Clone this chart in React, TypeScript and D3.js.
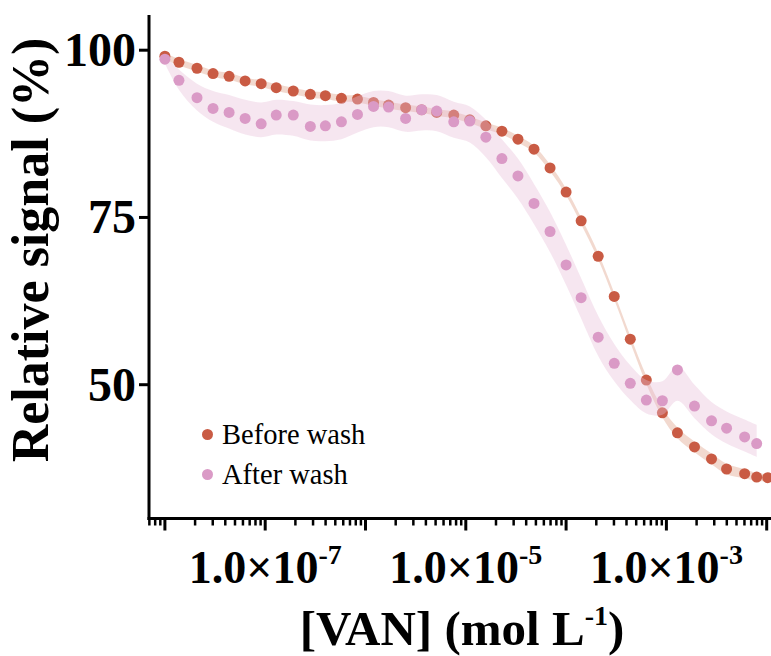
import React from "react";
import * as d3 from "d3";

// log10 of [VAN] concentration (mol L-1) for each measurement
const concLog = [
  -8.0, -7.86, -7.68, -7.52, -7.36, -7.2, -7.04, -6.89, -6.72, -6.55, -6.4, -6.24, -6.08,
  -5.92, -5.77, -5.6, -5.44, -5.29, -5.12, -4.96, -4.8, -4.64, -4.48, -4.32, -4.16, -4.0,
  -3.85, -3.68, -3.52, -3.36, -3.2, -3.04, -2.89, -2.72, -2.55, -2.4, -2.22, -2.1, -1.99,
];

const beforeWash = [
  99.1, 98.2, 97.3, 96.5, 96.1, 95.4, 95.0, 94.4, 93.9, 93.4, 93.2, 92.8, 92.7, 92.2, 91.8,
  91.4, 91.1, 90.7, 90.3, 89.6, 88.7, 87.9, 86.7, 85.2, 82.4, 78.8, 74.5, 69.2, 63.2, 56.8,
  50.7, 45.8, 42.8, 40.7, 38.9, 37.4, 36.7, 36.2, 36.1,
];
const beforeBandHalf = [
  0.4, 0.5, 0.5, 0.5, 0.5, 0.5, 0.5, 0.5, 0.5, 0.5, 0.5, 0.5, 0.5, 0.5, 0.5, 0.5, 0.5, 0.5,
  0.5, 0.5, 0.5, 0.5, 0.5, 0.5, 0.5, 0.5, 0.5, 0.5, 0.5, 0.5, 0.6, 0.7, 0.8, 0.8, 0.8, 0.8,
  0.7, 0.6, 0.5,
];

const afterWash = [
  98.65, 95.5, 92.9, 91.3, 90.7, 89.8, 89.0, 90.3, 90.3, 88.6, 88.7, 89.3, 90.4, 91.6, 91.5,
  89.8, 91.1, 90.9, 89.3, 89.4, 87.0, 83.8, 81.2, 77.1, 72.9, 67.9, 63.0, 57.1, 53.2, 50.2,
  47.7, 47.6, 52.2, 46.8, 44.6, 43.5, 42.2, 41.2,
];
const afterBandMid = [
  98.6, 95.6, 93.0, 91.6, 90.8, 90.0, 89.6, 90.0, 89.8, 89.2, 89.1, 89.4, 90.4, 91.2, 91.2,
  90.5, 90.7, 90.6, 89.6, 88.9, 86.8, 83.8, 80.8, 77.0, 72.8, 67.9, 62.9, 57.3, 53.3, 50.3,
  48.2, 48.0, 50.2, 47.5, 45.0, 43.6, 42.4, 41.6,
];
const afterBandHalf = [
  0.6, 1.5, 2.0, 2.3, 2.5, 2.6, 2.6, 2.6, 2.6, 2.7, 2.7, 2.7, 2.7, 2.7, 2.7, 2.7, 2.7, 2.7,
  2.7, 2.7, 2.8, 2.9, 3.0, 3.0, 3.0, 3.0, 3.0, 3.0, 2.8, 2.6, 2.5, 2.5, 2.6, 2.5, 2.4, 2.4,
  2.4, 2.4,
];

const yTicks = [100, 75, 50];
const xMajorExp = [-7, -5, -3];
const legendItems = ["Before wash", "After wash"];

const RED = "#c95b44";
const PINK = "#da9ac6";
const SERIF = "'Liberation Serif', 'Times New Roman', serif";

export default function App() {
  const W = 771;
  const H = 656;
  const left = 149;
  const right = 771;
  const top = 15;
  const bottom = 518.5;

  const x = d3.scaleLog().domain([1e-8, 1e-2]).range([164.9, 766.7]);
  const y = d3.scaleLinear().domain([30, 100]).range([bottom, 50.2]);

  const redBand = d3
    .area<number>()
    .x((_, i) => x(Math.pow(10, concLog[i])))
    .y0((d, i) => y(d - beforeBandHalf[i]))
    .y1((d, i) => y(d + beforeBandHalf[i]))
    .curve(d3.curveCatmullRom.alpha(0.5));

  const pinkBand = d3
    .area<number>()
    .x((_, i) => x(Math.pow(10, concLog[i])))
    .y0((d, i) => y(d - afterBandHalf[i]))
    .y1((d, i) => y(d + afterBandHalf[i]))
    .curve(d3.curveCatmullRom.alpha(0.5));

  // log ticks
  const minor: number[] = [];
  const major: number[] = [];
  for (let e = -9; e <= -2; e++) {
    for (let k = 1; k <= 9; k++) {
      const v = k * Math.pow(10, e);
      const px = x(v);
      if (px < left - 0.5 || px > right + 0.5) continue;
      if (k === 1) major.push(px);
      else minor.push(px);
    }
  }

  return (
    <svg
      width={W}
      height={H}
      style={{ position: "absolute", left: 0, top: 0, background: "#fff" }}
      fontFamily={SERIF}
    >
      <rect x={0} y={0} width={W} height={H} fill="#fff" />
      <path d={redBand(beforeWash) || ""} fill="#ecc9ba" opacity={0.7} />
      {beforeWash.map((v, i) => (
        <circle key={"r" + i} cx={x(Math.pow(10, concLog[i]))} cy={y(v)} r={5.5} fill={RED} />
      ))}
      <path d={pinkBand(afterBandMid) || ""} fill="#e7bcd7" opacity={0.38} />
      {afterWash.map((v, i) => (
        <circle key={"p" + i} cx={x(Math.pow(10, concLog[i]))} cy={y(v)} r={5.5} fill={PINK} />
      ))}

      {/* axes */}
      <line x1={left} x2={left} y1={top} y2={bottom + 1.5} stroke="#000" strokeWidth={3} />
      <line x1={left - 1.5} x2={right} y1={bottom} y2={bottom} stroke="#000" strokeWidth={3} />
      {yTicks.map((t) => (
        <g key={"yt" + t}>
          <line x1={left - 10} x2={left} y1={y(t)} y2={y(t)} stroke="#000" strokeWidth={3} />
          <text
            x={136}
            y={y(t) + 16}
            textAnchor="end"
            fontSize={48}
            fontWeight="bold"
            fill="#000"
          >
            {t}
          </text>
        </g>
      ))}
      {major.map((px, i) => (
        <line key={"M" + i} x1={px} x2={px} y1={bottom} y2={bottom + 12} stroke="#000" strokeWidth={3} />
      ))}
      {minor.map((px, i) => (
        <line key={"m" + i} x1={px} x2={px} y1={bottom} y2={bottom + 7} stroke="#000" strokeWidth={2.5} />
      ))}
      {xMajorExp.map((e) => (
        <text
          key={"xl" + e}
          x={x(Math.pow(10, e))}
          y={583}
          textAnchor="middle"
          fontSize={46}
          fontWeight="bold"
          fill="#000"
        >
          <tspan>1.0×10</tspan>
          <tspan fontSize={28} dy={-19}>
            {String(e)}
          </tspan>
        </text>
      ))}

      {/* axis titles */}
      <text
        x={462}
        y={645}
        textAnchor="middle"
        fontSize={49}
        fontWeight="bold"
        fill="#000"
      >
        <tspan>[VAN] (mol L</tspan>
        <tspan fontSize={28} dy={-20}>-1</tspan>
        <tspan dy={20}>)</tspan>
      </text>
      <text
        transform="translate(48,250) rotate(-90)"
        textAnchor="middle"
        fontSize={52}
        fontWeight="bold"
        fill="#000"
      >
        Relative signal (%)
      </text>

      {/* legend */}
      {legendItems.map((name, i) => (
        <g key={name}>
          <circle cx={207.5} cy={434.5 + i * 40} r={5.5} fill={i === 0 ? RED : PINK} />
          <text x={222} y={443.5 + i * 40} fontSize={28.5} fill="#000">
            {name}
          </text>
        </g>
      ))}
    </svg>
  );
}
